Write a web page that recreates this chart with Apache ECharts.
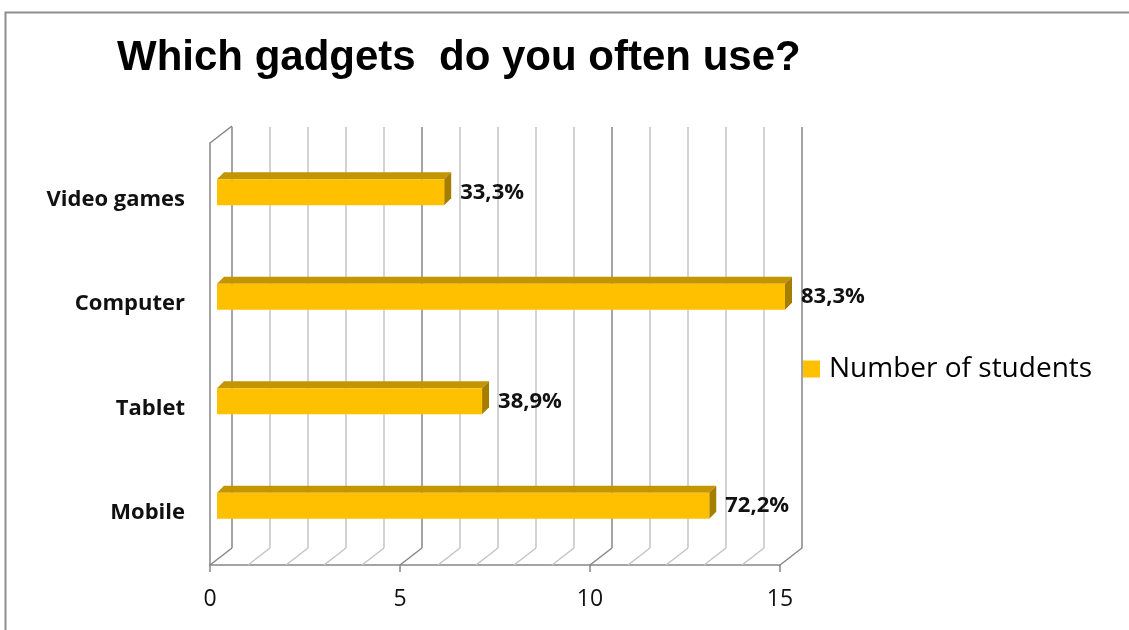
<!DOCTYPE html>
<html>
<head>
<meta charset="utf-8">
<script src="https://cdn.jsdelivr.net/npm/echarts@6/dist/echarts.min.js"></script>
<style>
html,body{margin:0;padding:0;background:#fff;}
#chart{width:1129px;height:630px;}
</style>
</head>
<body>
<div id="chart"></div>
<script>
// ---- data ----
var titleText = 'Which gadgets  do you often use?';
var seriesName = 'Number of students';
var categories = ['Mobile', 'Tablet', 'Computer', 'Video games'];
var studentCounts = [13, 7, 15, 6];
var percentLabels = ['72,2%', '38,9%', '83,3%', '33,3%'];
var xMin = 0, xMax = 15, xLabelInterval = 5, xGridInterval = 1;
var gridTicks = [0, 1, 2, 3, 4, 5, 6, 7, 8, 9, 10, 11, 12, 13, 14, 15];

// ---- style ----
var BAR_W = 26;
var BAR_D = 7;          // bar depth (px)
var WALL_DX = 22, WALL_DY = -17;  // floor depth (px)
var DARK = '#868686', LIGHT = '#c4c4c4';
var FONT = '"Open Sans", "DejaVu Sans", sans-serif';

var chart = echarts.init(document.getElementById('chart'));

var splitColors = [];
for (var i = 0; i < 5; i++) splitColors.push(i === 0 ? DARK : LIGHT);

var option = {
  backgroundColor: '#fff',
  animation: false,
  title: {
    text: titleText,
    left: 117, top: 37, padding: 0,
    textStyle: { fontFamily: '"Liberation Sans", Arial, sans-serif', fontWeight: 'bold', fontSize: 42, color: '#000' }
  },
  legend: {
    data: [seriesName],
    left: 803, top: 355, padding: 0,
    icon: 'rect', itemWidth: 17, itemHeight: 17,
    textStyle: { fontFamily: FONT, fontSize: 28, color: '#000', padding: [0, 0, 0, 4] }
  },
  graphic: [{
    type: 'rect', left: 3, top: 10, silent: true, z: -10,
    shape: { width: 1300, height: 800 },
    style: { fill: 'none', stroke: '#8e8e8e', lineWidth: 2 }
  }],
  grid: [
    { left: 217, right: 344, top: 140, bottom: 72 },   // bars (mid depth)
    { left: 210, right: 349, top: 143, bottom: 65 },   // front plane
    { left: 232, right: 327, top: 127, bottom: 82 }    // back wall
  ],
  xAxis: [
    { gridIndex: 0, type: 'value', min: xMin, max: xMax, show: false },
    { gridIndex: 1, type: 'value', min: xMin, max: xMax, interval: xLabelInterval,
      axisLine: { show: true, lineStyle: { color: DARK, width: 1.5 } },
      axisTick: { show: true, length: 7, lineStyle: { color: DARK, width: 1.5 } },
      splitLine: { show: false },
      axisLabel: { margin: 23, fontFamily: FONT, fontSize: 23, color: '#111' } },
    { gridIndex: 2, type: 'value', min: xMin, max: xMax, interval: xGridInterval,
      axisLine: { show: false }, axisTick: { show: false }, axisLabel: { show: false },
      splitLine: { show: true, lineStyle: { color: splitColors, width: 1.5 } } }
  ],
  yAxis: [
    { gridIndex: 0, type: 'category', data: categories,
      axisLine: { show: false }, axisTick: { show: false }, splitLine: { show: false },
      axisLabel: { margin: 32, fontFamily: FONT, fontWeight: 'bold', fontSize: 22, color: '#111',
                   verticalAlign: 'top', lineHeight: 22, padding: [-4, 0, 0, 0] } },
    { gridIndex: 1, type: 'value', min: 0, max: 1,
      axisLine: { show: true, lineStyle: { color: DARK, width: 1.5 } },
      axisTick: { show: false }, axisLabel: { show: false }, splitLine: { show: false } },
    { gridIndex: 2, type: 'value', min: 0, max: 1, show: false }
  ],
  series: [
    {
      type: 'custom', name: 'floor', xAxisIndex: 1, yAxisIndex: 1, z: 1, silent: true,
      data: gridTicks,
      renderItem: function (params, api) {
        var v = api.value(0);
        var p = api.coord([v, 0]);
        var col = (v % xLabelInterval === 0) ? DARK : LIGHT;
        var children = [{
          type: 'line',
          shape: { x1: p[0], y1: p[1], x2: p[0] + WALL_DX, y2: p[1] + WALL_DY },
          style: { stroke: col, lineWidth: 1.5 }
        }];
        if (v === xMin) {
          var t = api.coord([v, 1]);
          children.push({
            type: 'line',
            shape: { x1: t[0], y1: t[1], x2: t[0] + WALL_DX, y2: t[1] + WALL_DY },
            style: { stroke: DARK, lineWidth: 1.5 }
          });
        }
        return { type: 'group', children: children };
      }
    },
    {
      type: 'custom', name: 'barFaces', xAxisIndex: 0, yAxisIndex: 0, z: 2, silent: true,
      data: studentCounts.map(function (v, i) { return [v, i]; }),
      renderItem: function (params, api) {
        var end = api.coord([api.value(0), api.value(1)]);
        var start = api.coord([xMin, api.value(1)]);
        var yt = end[1] - BAR_W / 2, yb = end[1] + BAR_W / 2;
        return {
          type: 'group',
          children: [
            { type: 'polygon',
              shape: { points: [[start[0], yt], [end[0], yt], [end[0] + BAR_D, yt - BAR_D], [start[0] + BAR_D, yt - BAR_D]] },
              style: { fill: '#c39600' } },
            { type: 'polygon',
              shape: { points: [[end[0], yt], [end[0] + BAR_D, yt - BAR_D], [end[0] + BAR_D, yb - BAR_D], [end[0], yb]] },
              style: { fill: '#a57e00' } }
          ]
        };
      }
    },
    {
      type: 'bar', name: seriesName, xAxisIndex: 0, yAxisIndex: 0, z: 3,
      data: studentCounts, barWidth: BAR_W,
      itemStyle: { color: '#ffc000' },
      label: {
        show: true, position: 'right', distance: 16,
        fontFamily: FONT, fontWeight: 'bold', fontSize: 22, color: '#111',
        formatter: function (p) { return percentLabels[p.dataIndex]; }
      }
    }
  ]
};
chart.setOption(option);
</script>
</body>
</html>
